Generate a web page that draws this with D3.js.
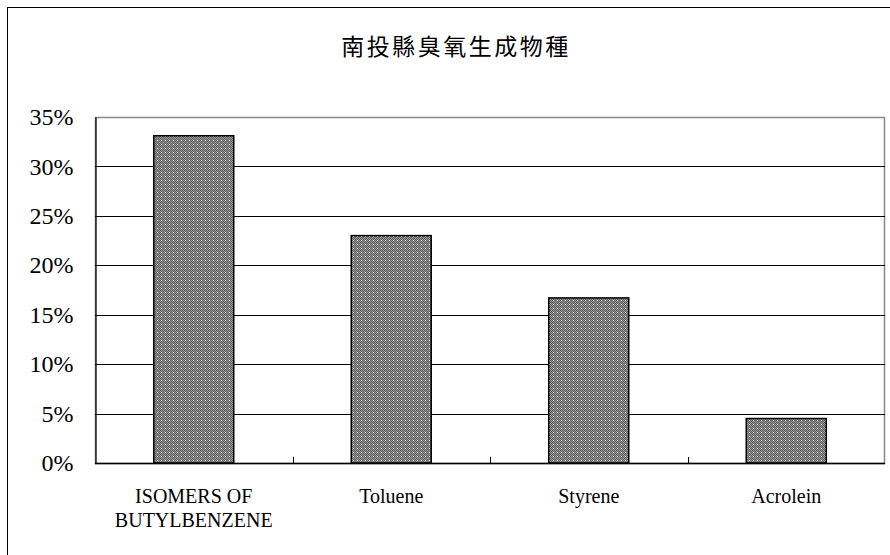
<!DOCTYPE html>
<html>
<head>
<meta charset="utf-8">
<script src="https://cdn.jsdelivr.net/npm/d3@7"></script>
<style>
  html, body { margin: 0; padding: 0; background: #fff; }
  svg { display: block; }
</style>
</head>
<body>
<svg id="chart" width="890" height="555"></svg>
<script>
// Ozone-forming species share, Nantou County
const title = "南投縣臭氧生成物種";
const categories = [["ISOMERS OF", "BUTYLBENZENE"], ["Toluene"], ["Styrene"], ["Acrolein"]];
const values = [0.331, 0.230, 0.167, 0.045];
const yTicks = [0, 0.05, 0.10, 0.15, 0.20, 0.25, 0.30, 0.35];

const svg = d3.select("#chart");
const margin = { left: 95, right: 5, top: 117, bottom: 92 };
const W = 890, H = 555;

// Outer chart frame
svg.append("rect")
  .attr("x", 7.5).attr("y", 7.5)
  .attr("width", 900).attr("height", 560)
  .attr("fill", "#fff").attr("stroke", "#000").attr("stroke-width", 1);

// Hatched fill used by the bars
const defs = svg.append("defs");
const pat = defs.append("pattern")
  .attr("id", "hatch").attr("patternUnits", "userSpaceOnUse")
  .attr("width", 4).attr("height", 4);
pat.append("rect").attr("width", 4).attr("height", 4).attr("fill", "#9a9a9a");
[[0,0],[2,0],[1,1],[3,1],[0,2],[2,2],[1,3],[3,3]].forEach(([x, y]) =>
  pat.append("rect").attr("x", x).attr("y", y).attr("width", 1).attr("height", 1).attr("fill", "#5a5a5a"));
pat.append("rect").attr("x", 1).attr("y", 0).attr("width", 1).attr("height", 1).attr("fill", "#fff");

const x = d3.scaleBand()
  .domain(d3.range(categories.length))
  .range([margin.left, W - margin.right])
  .paddingInner(0.595).paddingOuter(0.2975);
const xOuter = d3.scaleBand()
  .domain(d3.range(categories.length))
  .range([margin.left, W - margin.right]);
const y = d3.scaleLinear().domain([0, 0.35]).range([H - margin.bottom, margin.top]);

// Plot area border (top/right)
svg.append("rect")
  .attr("x", margin.left + 0.5).attr("y", y(0.35) + 0.5)
  .attr("width", W - margin.right - margin.left - 1)
  .attr("height", y(0) - y(0.35))
  .attr("fill", "none").attr("stroke", "#888").attr("stroke-width", 1.5);

// Horizontal gridlines
svg.append("g").selectAll("line")
  .data(yTicks.filter(t => t > 0 && t < 0.35))
  .join("line")
  .attr("x1", margin.left).attr("x2", W - margin.right)
  .attr("y1", d => Math.round(y(d)) + 0.5).attr("y2", d => Math.round(y(d)) + 0.5)
  .attr("stroke", "#000").attr("stroke-width", 1);

// Y axis
const yAxis = svg.append("g")
  .attr("transform", `translate(${margin.left + 0.5},0)`)
  .call(d3.axisLeft(y).tickValues(yTicks).tickFormat(d3.format(".0%")).tickSize(0).tickPadding(22));
yAxis.select(".domain").attr("stroke", "#000").attr("stroke-width", 1.2);
yAxis.selectAll("text")
  .attr("font-family", "'Liberation Serif', 'Times New Roman', serif")
  .attr("font-size", 24).attr("fill", "#000");

// Bars
svg.append("g").selectAll("rect")
  .data(values)
  .join("rect")
  .attr("x", (d, i) => x(i))
  .attr("y", d => y(d))
  .attr("width", x.bandwidth())
  .attr("height", d => y(0) - y(d))
  .attr("fill", "url(#hatch)")
  .attr("stroke", "#000").attr("stroke-width", 1.5);

// X axis baseline and category separators
const xg = svg.append("g");
xg.append("line")
  .attr("x1", margin.left).attr("x2", W - margin.right)
  .attr("y1", y(0) + 0.5).attr("y2", y(0) + 0.5)
  .attr("stroke", "#000").attr("stroke-width", 1.5);
xg.selectAll("line.sep")
  .data(d3.range(1, categories.length))
  .join("line").attr("class", "sep")
  .attr("x1", i => Math.round(xOuter(i)) + 0.5).attr("x2", i => Math.round(xOuter(i)) + 0.5)
  .attr("y1", y(0) - 6).attr("y2", y(0))
  .attr("stroke", "#000").attr("stroke-width", 1);

// Category labels
xg.selectAll("text.cat")
  .data(categories)
  .join("text").attr("class", "cat")
  .attr("x", (d, i) => xOuter(i) + xOuter.bandwidth() / 2)
  .attr("y", 503)
  .attr("text-anchor", "middle")
  .attr("font-family", "'Liberation Serif', 'Times New Roman', serif")
  .attr("font-size", 20).attr("fill", "#000")
  .selectAll("tspan")
  .data(d => d)
  .join("tspan")
  .attr("x", function () { return d3.select(this.parentNode).attr("x"); })
  .attr("dy", (d, i) => i === 0 ? 0 : 24)
  .text(d => d);

// Title
svg.append("text")
  .attr("x", 456).attr("y", 55)
  .attr("text-anchor", "middle")
  .attr("font-family", "'Noto Sans CJK TC', 'Noto Sans CJK SC', sans-serif")
  .attr("font-size", 23).attr("fill", "#000")
  .attr("letter-spacing", 2.5)
  .text(title);
</script>
</body>
</html>
